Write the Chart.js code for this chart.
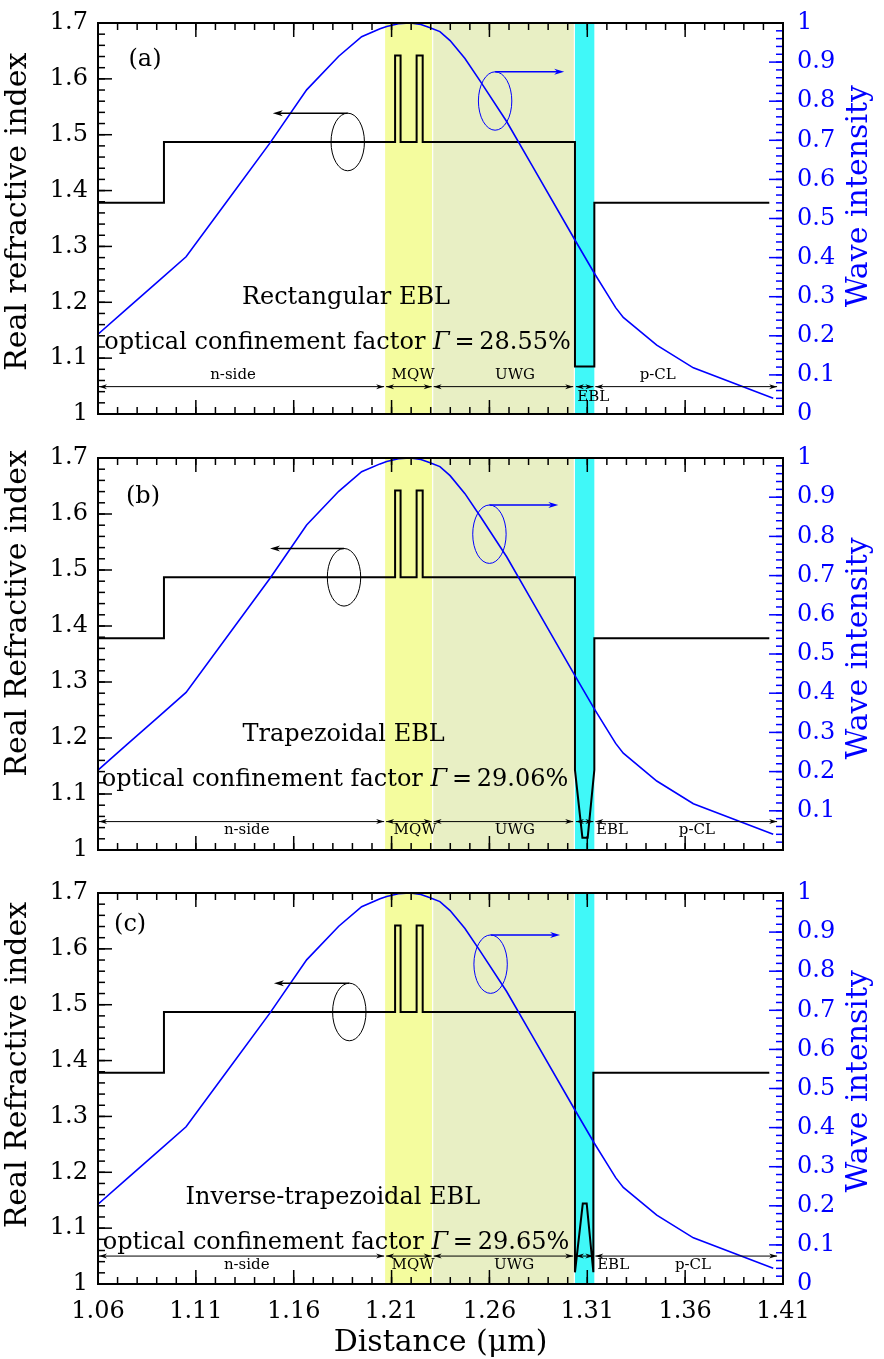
<!DOCTYPE html>
<html>
<head>
<meta charset="utf-8">
<script src="https://cdn.jsdelivr.net/npm/chart.js@4"></script>
<style>
  body { margin: 0; background: #fff; }
  #wrap { position: relative; width: 884px; height: 1359px; }
  canvas { position: absolute; left: 0; }
</style>
</head>
<body>
<div id="wrap">
  <canvas id="chartA" width="884" height="440" style="top:0"></canvas>
  <canvas id="chartB" width="884" height="435" style="top:440px"></canvas>
  <canvas id="chartC" width="884" height="484" style="top:875px"></canvas>
</div>
<script>
const FONT = "'DejaVu Serif', serif";
const BLUE = "#0000ff";

/* ================= DATA ================= */

const xTicks = [1.06, 1.11, 1.16, 1.21, 1.26, 1.31, 1.36, 1.41];
const nTicks = [1, 1.1, 1.2, 1.3, 1.4, 1.5, 1.6, 1.7];
const wTicks = [0, 0.1, 0.2, 0.3, 0.4, 0.5, 0.6, 0.7, 0.8, 0.9, 1];

// wave intensity (same in all three panels)
const waveX = [1.06, 1.075, 1.09, 1.105, 1.128, 1.148, 1.1666, 1.183, 1.1947, 1.2041, 1.2075, 1.2135, 1.2194,
  1.225, 1.2297, 1.2347, 1.2399, 1.2475, 1.2552, 1.2688, 1.2816, 1.3037, 1.3136, 1.3199, 1.3245, 1.3284,
  1.3455, 1.3642, 1.405];
const waveY = [0.204, 0.27, 0.336, 0.402, 0.558, 0.694, 0.829, 0.915, 0.965, 0.985, 0.991, 0.998, 1.0,
  0.996, 0.988, 0.978, 0.955, 0.909, 0.852, 0.748, 0.637, 0.445, 0.36, 0.309, 0.272, 0.247,
  0.176, 0.118, 0.04];

// real refractive index profiles
const rectX = [1.06, 1.0937, 1.0937, 1.2118, 1.2118, 1.2146, 1.2146, 1.2228, 1.2228, 1.2259, 1.2259, 1.3037, 1.3037, 1.3136, 1.3136, 1.403];
const rectN = [1.378, 1.378, 1.487, 1.487, 1.642, 1.642, 1.487, 1.487, 1.642, 1.642, 1.487, 1.487, 1.085, 1.085, 1.378, 1.378];

const trapX = [1.06, 1.0937, 1.0937, 1.2118, 1.2118, 1.2146, 1.2146, 1.2228, 1.2228, 1.2259, 1.2259, 1.3037, 1.3037, 1.3075, 1.3102, 1.3136, 1.3136, 1.403];
const trapN = [1.378, 1.378, 1.487, 1.487, 1.642, 1.642, 1.487, 1.487, 1.642, 1.642, 1.487, 1.487, 1.143, 1.022, 1.022, 1.143, 1.378, 1.378];

const invX = [1.06, 1.0937, 1.0937, 1.2118, 1.2118, 1.2146, 1.2146, 1.2228, 1.2228, 1.2259, 1.2259, 1.3037, 1.3037, 1.3077, 1.3097, 1.3131, 1.3131, 1.403];
const invN = [1.378, 1.378, 1.487, 1.487, 1.642, 1.642, 1.487, 1.487, 1.642, 1.642, 1.487, 1.487, 1.021, 1.144, 1.144, 1.021, 1.378, 1.378];

// layers
const regionNames = ["n-side", "MQW", "UWG", "EBL", "p-CL"];
const regionFrom = [1.06, 1.2067, 1.231, 1.3037, 1.3136];
const regionTo = [1.2067, 1.231, 1.3033, 1.3136, 1.4075];

const bandFrom = [1.2067, 1.2313, 1.3037];
const bandTo = [1.2307, 1.3031, 1.3136];
const bandColors = ["#f4fc9e", "#e8efc4", "#40f8f8"];

/* ================= PANELS ================= */

const panels = [
  {
    id: "chartA", height: 440, padTop: 23, xHeight: 26, showX: false, hideZero: false,
    yTitle: "Real refractive index", leftTitleAt: 1.362, rightTitleAt: 1.39,
    profX: rectX, profN: rectN,
    letter: "(a)", letterAt: [1.084, 1.634],
    ebl: "Rectangular EBL", eblAt: [1.1867, 1.2077],
    gamma: "28.55%", gammaAt: [1.1824, 1.127],
    leftEll: [1.1876, 1.487, 1.1493], rightEll: [1.2629, 0.8005, 1.2982],
    dimY: 1.049, labelX: [1.129, 1.221, 1.2731, 1.313, 1.346], labelY: [1.0698, 1.0698, 1.0698, 1.030, 1.0698]
  },
  {
    id: "chartB", height: 435, padTop: 18, xHeight: 25, showX: false, hideZero: true,
    yTitle: "Real Refractive index", leftTitleAt: 1.4225, rightTitleAt: 1.36,
    profX: trapX, profN: trapN,
    letter: "(b)", letterAt: [1.083, 1.63],
    ebl: "Trapezoidal EBL", eblAt: [1.1855, 1.206],
    gamma: "29.06%", gammaAt: [1.1811, 1.1253],
    leftEll: [1.1857, 1.487, 1.1479], rightEll: [1.26, 0.8056, 1.2952],
    dimY: 1.0507, labelX: [1.136, 1.222, 1.273, 1.3226, 1.366], labelY: [1.036, 1.036, 1.036, 1.036, 1.036]
  },
  {
    id: "chartC", height: 484, padTop: 18, xHeight: 75, showX: true, hideZero: false,
    yTitle: "Real Refractive index", leftTitleAt: 1.392, rightTitleAt: 1.363,
    profX: invX, profN: invN,
    letter: "(c)", letterAt: [1.0764, 1.6427],
    ebl: "Inverse-trapezoidal EBL", eblAt: [1.18, 1.154],
    gamma: "29.65%", gammaAt: [1.1816, 1.0734],
    leftEll: [1.1884, 1.487, 1.1499], rightEll: [1.2606, 0.818, 1.2961],
    dimY: 1.05, labelX: [1.136, 1.221, 1.2726, 1.3232, 1.364], labelY: [1.033, 1.033, 1.033, 1.033, 1.033]
  }
];

/* ================= DRAWING HELPERS ================= */

function arrowHead(ctx, x, y, dir, len, half) {
  ctx.beginPath();
  ctx.moveTo(x, y);
  ctx.lineTo(x - dir * len, y - half);
  ctx.lineTo(x - dir * len * 0.7, y);
  ctx.lineTo(x - dir * len, y + half);
  ctx.closePath();
  ctx.fill();
}

function steps(from, to, step) {
  const out = [];
  const n = Math.round((to - from) / step);
  for (let i = 0; i <= n; i++) out.push(from + i * step);
  return out;
}

function drawTicks(ctx, scale, vals, len, side, a) {
  vals.forEach(v => {
    const p = scale.getPixelForValue(v);
    ctx.beginPath();
    if (side === "bottom") { ctx.moveTo(p, a.bottom); ctx.lineTo(p, a.bottom - len); }
    if (side === "top") { ctx.moveTo(p, a.top); ctx.lineTo(p, a.top + len); }
    if (side === "left") { ctx.moveTo(a.left, p); ctx.lineTo(a.left + len, p); }
    if (side === "right") { ctx.moveTo(a.right, p); ctx.lineTo(a.right - len, p); }
    ctx.stroke();
  });
}

function drawVerticalTitle(ctx, text, x, y, color) {
  ctx.save();
  ctx.translate(x, y);
  ctx.rotate(-Math.PI / 2);
  ctx.font = `30px ${FONT}`;
  ctx.fillStyle = color;
  ctx.textAlign = "center";
  ctx.textBaseline = "middle";
  ctx.fillText(text, 0, 0);
  ctx.restore();
}

function gammaText(ctx, value, cx, cy) {
  const parts = [
    ["optical confinement factor ", `24px ${FONT}`],
    ["\u0393", `italic 24px ${FONT}`],
    ["\u2009=\u2009" + value, `24px ${FONT}`]
  ];
  let total = 0;
  parts.forEach(p => { ctx.font = p[1]; total += ctx.measureText(p[0]).width; });
  let x = cx - total / 2;
  ctx.textAlign = "left";
  ctx.textBaseline = "middle";
  ctx.fillStyle = "#000";
  parts.forEach(p => {
    ctx.font = p[1];
    ctx.fillText(p[0], x, cy);
    x += ctx.measureText(p[0]).width;
  });
}

const decor = {
  id: "decor",
  beforeDatasetsDraw(chart) {
    const { ctx, chartArea: a, scales: { x } } = chart;
    ctx.save();
    bandFrom.forEach((f, i) => {
      const x0 = x.getPixelForValue(f);
      const x1 = x.getPixelForValue(bandTo[i]);
      ctx.fillStyle = bandColors[i];
      ctx.fillRect(x0, a.top, x1 - x0, a.bottom - a.top);
    });
    ctx.restore();
  },
  afterDatasetsDraw(chart, args, opts) {
    const p = opts.panel;
    const { ctx, chartArea: a, scales: { x, y, y1 } } = chart;
    ctx.save();

    // inward ticks
    ctx.lineWidth = 1.5;
    ctx.strokeStyle = "#000";
    ["bottom", "top"].forEach(side => {
      drawTicks(ctx, x, steps(1.06, 1.41, 0.01), 7, side, a);
      drawTicks(ctx, x, xTicks, 14, side, a);
    });
    drawTicks(ctx, y, steps(1, 1.7, 0.02), 7, "left", a);
    drawTicks(ctx, y, nTicks, 14, "left", a);
    ctx.strokeStyle = BLUE;
    drawTicks(ctx, y1, steps(0, 1, 0.02), 7, "right", a);
    drawTicks(ctx, y1, wTicks, 14, "right", a);

    // frame
    ctx.strokeStyle = "#000";
    ctx.lineWidth = 2;
    ctx.strokeRect(a.left, a.top, a.right - a.left, a.bottom - a.top);

    // dimension arrows
    const dy = y.getPixelForValue(p.dimY);
    ctx.lineWidth = 1;
    ctx.fillStyle = "#000";
    regionFrom.forEach((f, i) => {
      const x0 = x.getPixelForValue(f) + 1;
      const x1 = x.getPixelForValue(regionTo[i]) - 1;
      ctx.beginPath();
      ctx.moveTo(x0, dy);
      ctx.lineTo(x1, dy);
      ctx.stroke();
      arrowHead(ctx, x0, dy, -1, 8, 2.5);
      arrowHead(ctx, x1, dy, 1, 8, 2.5);
    });
    ctx.font = `15px ${FONT}`;
    ctx.textAlign = "center";
    ctx.textBaseline = "middle";
    regionNames.forEach((name, i) => {
      ctx.fillText(name, x.getPixelForValue(p.labelX[i]), y.getPixelForValue(p.labelY[i]));
    });

    // ellipse + arrow, left axis (black)
    let [ex, ey, ax] = p.leftEll;
    let cx = x.getPixelForValue(ex), cy = y.getPixelForValue(ey);
    ctx.strokeStyle = "#000";
    ctx.lineWidth = 1;
    ctx.beginPath();
    ctx.ellipse(cx, cy, 16.7, 28.8, 0, 0, Math.PI * 2);
    ctx.stroke();
    ctx.lineWidth = 1.5;
    ctx.beginPath();
    ctx.moveTo(cx, cy - 28.8);
    ctx.lineTo(x.getPixelForValue(ax) + 6, cy - 28.8);
    ctx.stroke();
    arrowHead(ctx, x.getPixelForValue(ax), cy - 28.8, -1, 10, 3);

    // ellipse + arrow, right axis (blue)
    [ex, ey, ax] = p.rightEll;
    cx = x.getPixelForValue(ex);
    cy = y1.getPixelForValue(ey);
    ctx.strokeStyle = BLUE;
    ctx.fillStyle = BLUE;
    ctx.lineWidth = 1;
    ctx.beginPath();
    ctx.ellipse(cx, cy, 16.7, 29.2, 0, 0, Math.PI * 2);
    ctx.stroke();
    ctx.lineWidth = 1.5;
    ctx.beginPath();
    ctx.moveTo(cx, cy - 29.2);
    ctx.lineTo(x.getPixelForValue(ax) - 6, cy - 29.2);
    ctx.stroke();
    arrowHead(ctx, x.getPixelForValue(ax), cy - 29.2, 1, 10, 3);

    // texts
    ctx.fillStyle = "#000";
    ctx.textAlign = "center";
    ctx.textBaseline = "middle";
    ctx.font = `24px ${FONT}`;
    ctx.fillText(p.letter, x.getPixelForValue(p.letterAt[0]), y.getPixelForValue(p.letterAt[1]));
    ctx.fillText(p.ebl, x.getPixelForValue(p.eblAt[0]), y.getPixelForValue(p.eblAt[1]));
    gammaText(ctx, p.gamma, x.getPixelForValue(p.gammaAt[0]), y.getPixelForValue(p.gammaAt[1]));

    // axis titles
    drawVerticalTitle(ctx, p.yTitle, 18, y.getPixelForValue(p.leftTitleAt), "#000");
    drawVerticalTitle(ctx, "Wave intensity", a.right + 76, y.getPixelForValue(p.rightTitleAt), BLUE);

    ctx.restore();
  }
};

/* ================= CHARTS ================= */

function fixVertical(width) {
  return s => {
    s.width = width;
    s.paddingTop = 0;
    s.paddingBottom = 0;
  };
}

function makePanel(p) {
  const tickFont = { family: FONT, size: 24 };
  const noGrid = { display: false, drawTicks: false, tickLength: 0 };

  new Chart(document.getElementById(p.id), {
    type: "line",
    data: {
      datasets: [
        {
          label: "Wave intensity",
          data: waveX.map((v, i) => ({ x: v, y: waveY[i] })),
          yAxisID: "y1",
          borderColor: BLUE,
          borderWidth: 1.6,
          pointRadius: 0,
          tension: 0,
          order: 1
        },
        {
          label: "Real refractive index",
          data: p.profX.map((v, i) => ({ x: v, y: p.profN[i] })),
          yAxisID: "y",
          borderColor: "#000",
          borderWidth: 2,
          pointRadius: 0,
          tension: 0,
          order: 2
        }
      ]
    },
    options: {
      responsive: false,
      animation: false,
      devicePixelRatio: 1,
      layout: { padding: { top: p.padTop, left: 0, right: 0, bottom: 0 } },
      plugins: {
        legend: { display: false },
        tooltip: { enabled: false },
        decor: { panel: p }
      },
      scales: {
        x: {
          type: "linear",
          min: 1.06,
          max: 1.41,
          grid: noGrid,
          border: { display: false },
          afterBuildTicks: s => { s.ticks = xTicks.map(v => ({ value: v })); },
          afterFit: s => {
            s.height = p.xHeight;
            s.paddingLeft = 0;
            s.paddingRight = 0;
          },
          ticks: {
            display: p.showX,
            font: tickFont,
            color: "#000",
            padding: 13,
            maxRotation: 0,
            autoSkip: false,
            callback: v => v.toFixed(2)
          },
          title: {
            display: p.showX,
            text: "Distance (\u03bcm)",
            color: "#000",
            font: { family: FONT, size: 30 },
            padding: { top: 0, bottom: -2 }
          }
        },
        y: {
          position: "left",
          min: 1,
          max: 1.7,
          grid: noGrid,
          border: { display: false },
          afterBuildTicks: s => { s.ticks = nTicks.map(v => ({ value: v })); },
          afterFit: fixVertical(98),
          ticks: {
            font: tickFont,
            color: "#000",
            padding: 10,
            callback: v => String(Math.round(v * 10) / 10)
          }
        },
        y1: {
          position: "right",
          min: 0,
          max: 1,
          grid: noGrid,
          border: { display: false },
          afterBuildTicks: s => { s.ticks = wTicks.map(v => ({ value: v })); },
          afterFit: fixVertical(101),
          ticks: {
            font: tickFont,
            color: BLUE,
            padding: 14,
            callback: v => (p.hideZero && v === 0) ? "" : String(Math.round(v * 10) / 10)
          }
        }
      }
    },
    plugins: [decor]
  });
}

panels.forEach(makePanel);
</script>
</body>
</html>
